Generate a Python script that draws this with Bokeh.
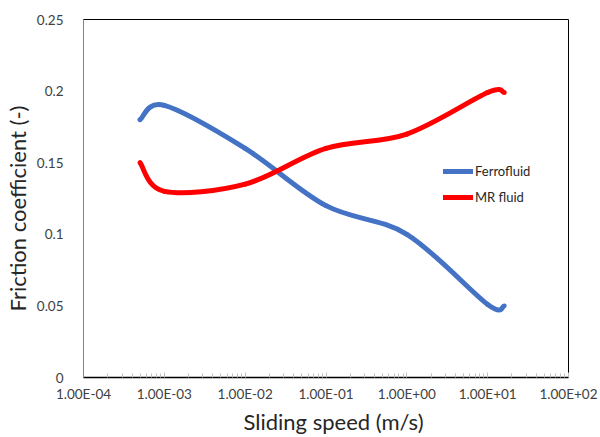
import numpy as np
from bokeh.plotting import figure
from bokeh.models import FixedTicker, CustomJSTickFormatter, Range1d, Legend, LegendItem, Title
from bokeh.embed import file_html
from bokeh.resources import INLINE

# Data
speed = [5e-4, 1e-3, 1e-2, 1e-1, 1e0, 1e1, 1.6e1]
ferrofluid = [0.180, 0.190, 0.160, 0.120, 0.100, 0.051, 0.050]
mr_fluid = [0.150, 0.130, 0.135, 0.160, 0.170, 0.199, 0.199]

xticks = [1e-4, 1e-3, 1e-2, 1e-1, 1e0, 1e1, 1e2]
xtick_labels = ["1.00E-04", "1.00E-03", "1.00E-02", "1.00E-01", "1.00E+00", "1.00E+01", "1.00E+02"]
yticks = [0, 0.05, 0.1, 0.15, 0.2, 0.25]
ytick_labels = ["0", "0.05", "0.1", "0.15", "0.2", "0.25"]

x_title = "Sliding speed (m/s)"
y_title = "Friction coefficient (-)"

FONT = "Lato"


def smooth_segments(xs, ys, t=1.0 / 6.0):
    """Catmull-Rom style Bezier control points (Excel 'smoothed line'), in log-x space."""
    lx = np.log10(np.asarray(xs, dtype=float))
    y = np.asarray(ys, dtype=float)
    n = len(lx)
    px = np.concatenate([[lx[0]], lx, [lx[-1]]])
    py = np.concatenate([[y[0]], y, [y[-1]]])
    seg = dict(x0=[], y0=[], x1=[], y1=[], cx0=[], cy0=[], cx1=[], cy1=[])
    for i in range(n - 1):
        j = i + 1
        c0x = px[j] + (px[j + 1] - px[j - 1]) * t
        c0y = py[j] + (py[j + 1] - py[j - 1]) * t
        c1x = px[j + 1] - (px[j + 2] - px[j]) * t
        c1y = py[j + 1] - (py[j + 2] - py[j]) * t
        seg["x0"].append(10 ** px[j]); seg["y0"].append(py[j])
        seg["x1"].append(10 ** px[j + 1]); seg["y1"].append(py[j + 1])
        seg["cx0"].append(10 ** c0x); seg["cy0"].append(c0y)
        seg["cx1"].append(10 ** c1x); seg["cy1"].append(c1y)
    return seg


p = figure(width=600, height=437, x_axis_type="log",
           output_backend="svg", toolbar_location=None,
           x_range=Range1d(1e-4, 1e2), y_range=Range1d(0, 0.25),
           min_border_left=83, min_border_right=32, min_border_top=19, min_border_bottom=60)

p.xgrid.visible = False
p.ygrid.visible = False
p.outline_line_color = "black"
p.outline_line_width = 1
p.background_fill_color = "white"
p.border_fill_color = "white"

r1 = p.bezier(line_color="#4472C4", line_width=5, line_cap="round", **smooth_segments(speed, ferrofluid))
r2 = p.bezier(line_color="#FF0000", line_width=5, line_cap="round", **smooth_segments(speed, mr_fluid))

# X axis
minor = [k * 10.0 ** d for d in range(-4, 2) for k in range(2, 10)]
p.xaxis.ticker = FixedTicker(ticks=xticks, minor_ticks=minor)
p.xaxis.formatter = CustomJSTickFormatter(args=dict(tvals=xticks, tlabels=xtick_labels), code="""
    for (let i = 0; i < tvals.length; i++) {
        if (Math.abs(Math.log10(tick) - Math.log10(tvals[i])) < 1e-6) return tlabels[i];
    }
    return "";
""")
p.xaxis.axis_line_color = "black"
p.xaxis.axis_line_width = 1.5
p.xaxis.major_tick_in = 5
p.xaxis.major_tick_out = 0
p.xaxis.minor_tick_in = 4
p.xaxis.minor_tick_out = 0
p.xaxis.major_tick_line_color = "#BFBFBF"
p.xaxis.minor_tick_line_color = "#BFBFBF"

# Y axis
p.yaxis.ticker = FixedTicker(ticks=yticks)
p.yaxis.formatter = CustomJSTickFormatter(args=dict(tvals=yticks, tlabels=ytick_labels), code="""
    for (let i = 0; i < tvals.length; i++) {
        if (Math.abs(tick - tvals[i]) < 1e-9) return tlabels[i];
    }
    return "";
""")
p.yaxis.axis_line_color = "#868686"
p.yaxis.major_tick_line_color = None
p.yaxis.minor_tick_line_color = None
p.yaxis.major_label_standoff = 14

for ax in (p.xaxis, p.yaxis):
    ax.major_label_text_font = FONT
    ax.major_label_text_font_size = "13.5px"
    ax.major_label_text_color = "#404040"
p.xaxis.major_label_standoff = 8

# Axis titles as side-panel titles (offset from the frame like Excel's)
p.add_layout(Title(text=x_title, align="left", offset=160, vertical_align="middle", standoff=4,
                   text_font=FONT, text_font_size="22px", text_font_style="normal",
                   text_color="#262626"), "below")
p.add_layout(Title(text=y_title, align="left", offset=66, vertical_align="middle", standoff=4,
                   text_font=FONT, text_font_size="22px", text_font_style="normal",
                   text_color="#262626"), "left")

legend = Legend(items=[LegendItem(label="Ferrofluid", renderers=[r1]),
                       LegendItem(label="MR fluid", renderers=[r2])],
                location=(360, 170))
legend.border_line_color = None
legend.background_fill_alpha = 0
legend.padding = 0
legend.margin = 0
legend.glyph_width = 30
legend.glyph_height = 20
legend.label_height = 20
legend.spacing = 6
legend.label_standoff = 2
legend.label_text_font = FONT
legend.label_text_font_size = "13px"
legend.label_text_color = "#262626"
p.add_layout(legend, "center")

open("out.html", "w").write(file_html(p, INLINE))
